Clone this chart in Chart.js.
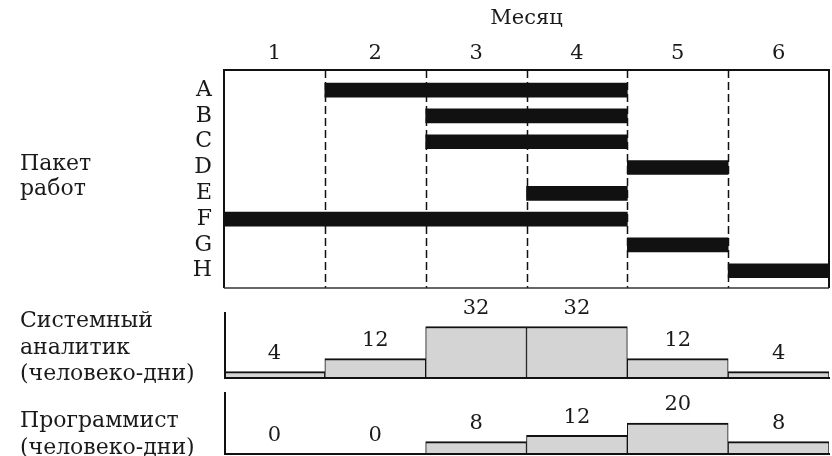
<!DOCTYPE html>
<html><head><meta charset="utf-8">
<script src="https://cdn.jsdelivr.net/npm/chart.js@4"></script>
<style>
html,body{margin:0;padding:0;background:#fff;}
#wrap{position:relative;width:832px;height:456px;overflow:hidden;background:#fff;}
canvas{position:absolute;left:0;top:0;}
</style></head><body>
<div id="wrap">
<canvas id="g" width="832" height="456"></canvas>
<canvas id="a" width="832" height="456"></canvas>
<canvas id="p" width="832" height="456"></canvas>
</div>
<script>
// ---- data ----
const months = ['1','2','3','4','5','6'];
const packages = ['A','B','C','D','E','F','G','H'];
const pkgStart = [1,2,2,4,3,0,4,5];
const pkgEnd   = [4,4,4,5,4,4,5,6];
const analystDays = [4,12,32,32,12,4];
const programmerDays = [0,0,8,12,20,8];
const monthTitle = 'Месяц';
const ganttLabel = ['Пакет','работ'];
const analystLabel = ['Системный','аналитик','(человеко-дни)'];
const programmerLabel = ['Программист','(человеко-дни)'];

const FONT = "'DejaVu Serif', 'Liberation Serif', serif";
const FS = 21;
const SIDE_FS = 22;
const INK = '#1a1a1a';
Chart.defaults.font.family = FONT;
Chart.defaults.font.size = FS;
Chart.defaults.color = INK;
Chart.defaults.animation = false;

// side text plugin
const sideText = {
  id: 'sideText',
  afterDraw(chart, args, opts) {
    if (!opts.lines) return;
    const ctx = chart.ctx;
    ctx.save();
    ctx.font = SIDE_FS + 'px ' + FONT;
    ctx.fillStyle = INK;
    ctx.textAlign = 'left';
    ctx.textBaseline = 'alphabetic';
    opts.lines.forEach((t, i) => ctx.fillText(t, opts.x, opts.y + i * opts.lh));
    ctx.restore();
  }
};

// gantt grid + frame
const ganttFrame = {
  id: 'ganttFrame',
  beforeDatasetsDraw(chart) {
    const {ctx, chartArea: ca, scales: {x}} = chart;
    ctx.save();
    ctx.strokeStyle = '#111';
    ctx.lineWidth = 1.5;
    ctx.setLineDash([8, 4]);
    for (let m = 1; m < months.length; m++) {
      const px = Math.round(x.getPixelForValue(m)) + 0.5;
      ctx.beginPath(); ctx.moveTo(px, ca.top); ctx.lineTo(px, ca.bottom); ctx.stroke();
    }
    ctx.restore();
  },
  afterDatasetsDraw(chart) {
    const {ctx, chartArea: ca} = chart;
    ctx.save();
    ctx.strokeStyle = '#111';
    ctx.lineWidth = 2;
    ctx.beginPath();
    ctx.moveTo(ca.left, ca.bottom); ctx.lineTo(ca.left, ca.top); ctx.lineTo(ca.right, ca.top); ctx.lineTo(ca.right, ca.bottom);
    ctx.stroke();
    ctx.lineWidth = 1.5;
    ctx.strokeStyle = '#333';
    ctx.beginPath(); ctx.moveTo(ca.left, ca.bottom); ctx.lineTo(ca.right, ca.bottom); ctx.stroke();
    ctx.restore();
  }
};

new Chart(document.getElementById('g'), {
  type: 'bar',
  data: {
    datasets: [{
      data: packages.map((p, i) => ({x: [pkgStart[i], pkgEnd[i]], y: i})),
      backgroundColor: '#111',
      borderWidth: 0,
      barThickness: 14,
      borderSkipped: false
    }]
  },
  plugins: [ganttFrame, sideText],
  options: {
    responsive: false,
    devicePixelRatio: 1,
    indexAxis: 'y',
    layout: {padding: {left: 0, right: 3, top: 0, bottom: 168}},
    plugins: {legend: {display: false}, tooltip: {enabled: false},
      sideText: {lines: ganttLabel, x: 20, y: 170, lh: 25}},
    scales: {
      x: {
        type: 'linear', position: 'top', min: 0, max: 6, offset: false,
        afterBuildTicks: s => { s.ticks = months.map((m, i) => ({value: i + 0.5})); },
        afterFit: s => { s.height = 70; },
        ticks: {callback: v => months[Math.floor(v)], padding: 4, maxRotation: 0, autoSkip: false, font: {size: 21}},
        grid: {display: false, drawTicks: false},
        border: {display: false},
        title: {display: true, text: monthTitle, padding: {top: 6, bottom: 0}, font: {size: 21}}
      },
      y: {
        type: 'linear', reverse: true, min: -0.78, max: 7.67, offset: false,
        afterBuildTicks: s => { s.ticks = packages.map((p, i) => ({value: i})); },
        afterFit: s => { s.width = 224; },
        ticks: {callback: v => packages[v], padding: 12, autoSkip: false, font: {size: 22}},
        grid: {display: false, drawTicks: false},
        border: {display: false}
      }
    }
  }
});

// histogram helpers
const histFrame = {
  id: 'histFrame',
  afterDatasetsDraw(chart, args, opts) {
    const {ctx, chartArea: ca} = chart;
    ctx.save();
    ctx.font = FS + 'px ' + FONT;
    ctx.fillStyle = INK;
    ctx.textAlign = 'center';
    ctx.textBaseline = 'middle';
    const meta = chart.getDatasetMeta(0);
    const vals = chart.data.datasets[0].data;
    meta.data.forEach((el, i) => {
      ctx.fillText(String(vals[i]), el.x, el.y - 18);
    });
    ctx.strokeStyle = '#111';
    ctx.lineWidth = 2;
    ctx.beginPath();
    ctx.moveTo(ca.left + 1, ca.top); ctx.lineTo(ca.left + 1, ca.bottom); ctx.lineTo(ca.right + 1, ca.bottom);
    ctx.stroke();
    ctx.restore();
  }
};

function hist(id, values, maxV, top, bottom, label, labelY) {
  new Chart(document.getElementById(id), {
    type: 'bar',
    data: {
      labels: months,
      datasets: [{
        data: values,
        backgroundColor: '#d4d4d4',
        borderColor: '#111',
        borderWidth: {top: 2, left: 1, right: 1, bottom: 0},
        borderSkipped: 'start',
        barPercentage: 1,
        categoryPercentage: 1
      }]
    },
    plugins: [histFrame, sideText],
    options: {
      responsive: false,
      devicePixelRatio: 1,
      layout: {padding: {left: 224, right: 3, top: top, bottom: 456 - bottom}},
      plugins: {legend: {display: false}, tooltip: {enabled: false},
        sideText: {lines: label, x: 20, y: labelY, lh: 26.5}},
      scales: {
        x: {display: false},
        y: {display: false, min: 0, max: maxV}
      }
    }
  });
}
hist('a', analystDays, 41, 312, 378, analystLabel, 327);
hist('p', programmerDays, 40, 392, 454, programmerLabel, 427);
</script>
</body></html>
